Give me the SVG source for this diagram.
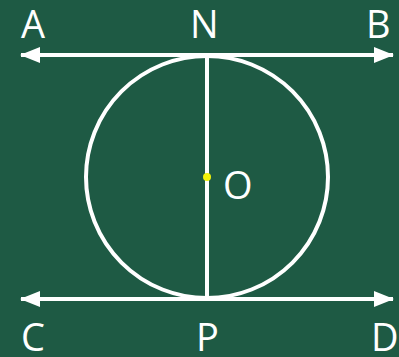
<svg xmlns="http://www.w3.org/2000/svg" width="399" height="357" viewBox="0 0 399 357">
<defs>
<style>
.ln{stroke:#fff;stroke-width:4;fill:none}
.lb{font-family:"Open Sans","Noto Sans",sans-serif;font-size:38px;fill:#fff}
</style>
<marker id="ah" viewBox="0 0 20 16" refX="19" refY="8" markerWidth="20" markerHeight="16" markerUnits="userSpaceOnUse" orient="auto-start-reverse">
<path d="M0,0 L20,8 L0,16 Z" fill="#fff"/>
</marker>
</defs>
<rect width="399" height="357" fill="#1e5a44"/>
<g id="circle">
<circle class="ln" cx="207" cy="177" r="121"/>
<line class="ln" x1="207" y1="56" x2="207" y2="298"/>
<circle cx="207" cy="177" r="4" fill="#f2f20a"/>
</g>
<g id="connectors">
<line class="ln" x1="21" y1="55" x2="393" y2="55" marker-start="url(#ah)" marker-end="url(#ah)"/>
<line class="ln" x1="21" y1="299" x2="393" y2="299" marker-start="url(#ah)" marker-end="url(#ah)"/>
</g>
<g id="labels">
<text class="lb" x="21" y="38">A</text>
<text class="lb" x="190" y="38">N</text>
<text class="lb" x="366" y="38">B</text>
<text class="lb" x="223" y="199">O</text>
<text class="lb" x="21" y="351">C</text>
<text class="lb" x="196" y="351">P</text>
<text class="lb" x="371" y="351">D</text>
</g>
</svg>
